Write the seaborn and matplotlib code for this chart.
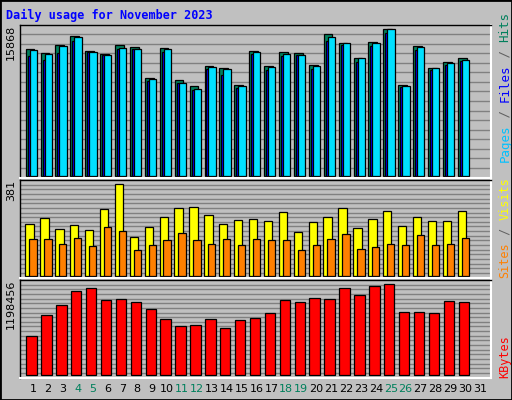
import numpy as np
import matplotlib
matplotlib.use("Agg")
import matplotlib.pyplot as plt
import seaborn as sns
from matplotlib.patches import Rectangle

days = list(range(1, 32))
hits = [13704,13271,14137,15110,13488,13163,14137,13920,10567,13812,10350,9701,11865,11648,9809,
        13488,11865,13380,13271,11973,15327,14354,12730,14461,15868,9809,14029,11648,12297,12730]
files = [12982,12549,13271,14641,13380,13054,13704,13704,10278,13380,10025,9268,11540,10891,9484,
         13199,11432,12982,13054,11540,14569,14137,12297,14029,15434,9592,13595,11432,11973,12405]
pages = [13595,13163,14029,15001,13380,13054,13812,13704,10457,13704,10025,9376,11756,11540,9701,
         13380,11756,13163,13054,11865,15001,14354,12730,14354,15868,9701,13920,11648,12188,12513]
visits = [215,240,195,211,190,277,381,162,203,244,282,286,253,215,232,
          236,228,265,182,224,244,282,199,236,269,207,244,228,228,269]
sites = [153,153,133,157,124,203,186,108,128,149,178,149,133,153,128,
         153,149,149,108,128,153,174,112,120,133,128,170,128,133,157]
kbytes = [511746,787302,918519,1102223,1141588,984128,997249,957884,866032,734815,642963,656085,734815,616720,721694,
          747937,813545,984128,957884,1010371,997249,1141588,1049737,1167832,1198456,826667,826667,813545,971006,957884]
weekends = [4, 5, 11, 12, 18, 19, 25, 26]

sns.set_style("white")
plt.rcParams['font.family'] = ['DejaVu Sans']
BG = "#C0C0C0"
fig = plt.figure(figsize=(5.12, 4.0), dpi=100, facecolor=BG)
fig.patches.append(Rectangle((0, 0), 1, 1, transform=fig.transFigure, fill=False,
                             edgecolor="black", linewidth=2))

def px_axes(x0, y0, x1, y1):
    return fig.add_axes([x0/512, (400-y1)/400, (x1-x0)/512, (y1-y0)/400])

d = np.array(days[:30])
XL = (0.13, 31.73)

def panel(ax, nlines, ylim):
    ax.set_facecolor(BG)
    ax.set_xlim(*XL)
    ax.set_ylim(*ylim)
    for f in np.linspace(0, 1, nlines + 2)[1:-1]:
        ax.axhline(ylim[0] + f*(ylim[1]-ylim[0]), color="#808080", lw=1, zorder=0)
    ax.set_xticks([]); ax.set_yticks([])
    ax.set_xlabel(""); ax.set_ylabel("")
    for s in ax.spines.values():
        s.set_color("black"); s.set_linewidth(1)
    ax.spines['bottom'].set_color("white"); ax.spines['right'].set_color("white")
    ax.spines['bottom'].set_linewidth(1.5); ax.spines['right'].set_linewidth(1.5)

def bars(ax, offset, vals, width, color):
    sns.barplot(x=d + offset, y=vals, native_scale=True, width=width, color=color,
                edgecolor="black", linewidth=0.9, errorbar=None, ax=ax, zorder=2, saturation=1)

ax1 = px_axes(20, 24.5, 491, 177.5)
bars(ax1, -0.2, hits, 0.58, "#00805C")
bars(ax1, -0.1, files, 0.52, "#0000FF")
bars(ax1, 0.02, pages, 0.49, "#00E0FF")
panel(ax1, 15, (-108, 16372))

ax2 = px_axes(20, 180, 491, 277.5)
bars(ax2, -0.23, visits, 0.56, "#FFFF00")
bars(ax2, 0.0, sites, 0.49, "#FF8000")
panel(ax2, 20, (-5.5, 397.6))

ax3 = px_axes(20, 280, 491, 377.5)
bars(ax3, -0.1, kbytes, 0.7, "#FF0000")
panel(ax3, 20, (-26243, 1250940))

fig.text(6/512, 1-15/400, "Daily usage for November 2023", color="#0000FF",
         family="DejaVu Sans Mono", weight="bold", fontsize=8.5, va="center")

for ax, lab in [(ax1, "15868"), (ax2, "381"), (ax3, "1198456")]:
    ax.text(-0.008, 1.0, lab, transform=ax.transAxes, rotation=90, ha="right", va="top",
            fontsize=8, color="black")

for day in days:
    x = ax3.transData.transform((day, 0))[0] / fig.bbox.width
    fig.text(x, 1-389/400, str(day), ha="center", va="center", fontsize=8,
             color="#00805C" if day in weekends else "black")

def right_label(ax, parts, start, size):
    fig.canvas.draw()
    r = fig.canvas.get_renderer()
    yy = start
    for txt, col in parts:
        t = ax.text(1.016, yy, txt, transform=ax.transAxes, rotation=90, ha="left", va="bottom",
                    fontsize=size, color=col, family="DejaVu Sans Mono")
        bb = t.get_window_extent(r)
        yy += bb.height / ax.bbox.height

right_label(ax1, [("Pages", "#00C0FF"), (" / ", "#606060"), ("Files", "#0000FF"),
                  (" / ", "#606060"), ("Hits", "#00805C")], 0.1, 9)
right_label(ax2, [("Sites", "#FF8000"), (" / ", "#606060"), ("Visits", "#FFFF00")], 0.0, 8.5)
right_label(ax3, [("KBytes", "#FF0000")], 0.0, 8.5)

fig.savefig("out.png", dpi=100, facecolor=BG)
